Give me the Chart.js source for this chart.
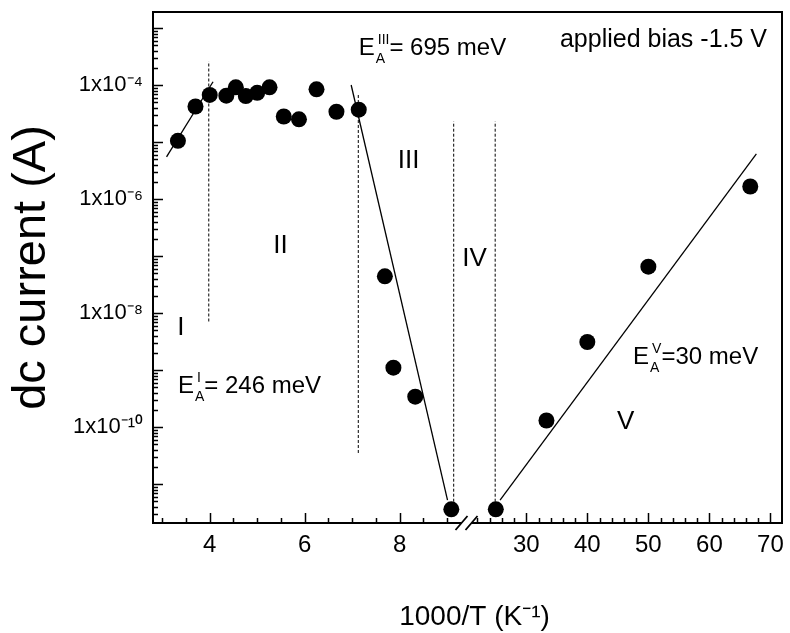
<!DOCTYPE html>
<html>
<head>
<meta charset="utf-8">
<script src="https://cdn.jsdelivr.net/npm/chart.js@4.4.1/dist/chart.umd.min.js"></script>
<style>
  html, body { margin: 0; padding: 0; background: #fff; }
  canvas { display: block; }
</style>
</head>
<body>
<canvas id="arrh" width="790" height="633"></canvas>
<script>
// measured points left of the axis break: 1000/T (K^-1) and dc current (A)
const invTempLow = [3.33, 3.70, 4.00, 4.35, 4.55, 4.76, 5.00, 5.26, 5.56, 5.88, 6.25, 6.67, 7.14, 7.69, 7.87, 8.33, 9.09];
const currentLow = [1.05e-5, 4.2e-5, 6.7e-5, 6.5e-5, 9.1e-5, 6.4e-5, 7.3e-5, 9.1e-5, 2.8e-5, 2.5e-5, 8.4e-5, 3.4e-5, 3.7e-5, 4.4e-8, 1.1e-9, 3.4e-10, 3.6e-12];
// measured points right of the break
const invTempHigh = [25.0, 33.3, 40.0, 50.0, 66.7];
const currentHigh = [3.6e-12, 1.3e-10, 3.1e-9, 6.5e-8, 1.66e-6];

// activation energy fits (end points)
const fitIx = [3.09, 4.07], fitIy = [5.5e-6, 1.14e-4];
const fitIIIx = [6.98, 9.01], fitIIIy = [1.0e-4, 5.2e-12];
const fitVx = [25.7, 67.7], fitVy = [5.2e-12, 6.2e-6];

// dotted region borders
const borderLowX = [3.98, 7.13, 9.14];
const borderLowY = [[7.1e-9, 2.6e-4], [3.5e-11, 6.9e-5], [4e-12, 2.3e-5]];
const borderHighX = [24.9];
const borderHighY = [[4e-12, 2.3e-5]];

// ticks
const xTicksLow = [4, 6, 8];
const xTicksHigh = [30, 40, 50, 60, 70];
const yTickValues = [1e-10, 1e-8, 1e-6, 1e-4];
const yTickLabels = ['1x10\u207B\u00B9\u2070', '1x10\u207B\u2078', '1x10\u207B\u2076', '1x10\u207B\u2074'];

const ink = '#000';
const font = '"Liberation Sans", Arial, Helvetica, sans-serif';

function pts(xs, ys) {
  return xs.map((x, i) => ({ x: x, y: ys[i] }));
}

const datasets = [
  { xAxisID: 'xL', data: pts(invTempLow, currentLow), pointRadius: 8, backgroundColor: ink, borderColor: ink, borderWidth: 0, showLine: false },
  { xAxisID: 'xR', data: pts(invTempHigh, currentHigh), pointRadius: 8, backgroundColor: ink, borderColor: ink, borderWidth: 0, showLine: false },
  { xAxisID: 'xL', data: pts(fitIx, fitIy), showLine: true, pointRadius: 0, borderColor: ink, borderWidth: 1.3 },
  { xAxisID: 'xL', data: pts(fitIIIx, fitIIIy), showLine: true, pointRadius: 0, borderColor: ink, borderWidth: 1.3 },
  { xAxisID: 'xR', data: pts(fitVx, fitVy), showLine: true, pointRadius: 0, borderColor: ink, borderWidth: 1.3 }
];
borderLowX.forEach((x, i) => {
  datasets.push({ xAxisID: 'xL', data: pts([x, x], borderLowY[i]), showLine: true, pointRadius: 0, borderColor: ink, borderWidth: 1, borderDash: [3, 2] });
});
borderHighX.forEach((x, i) => {
  datasets.push({ xAxisID: 'xR', data: pts([x, x], borderHighY[i]), showLine: true, pointRadius: 0, borderColor: ink, borderWidth: 1, borderDash: [3, 2] });
});

// texts inside the plot, anchored in data coordinates
const regionNotes = [
  { text: 'I', axis: 'xL', x: 3.39, y: 5.5e-9 },
  { text: 'II', axis: 'xL', x: 5.49, y: 1.5e-7 },
  { text: 'III', axis: 'xL', x: 8.19, y: 4.7e-6 },
  { text: 'IV', axis: 'xR', x: 21.5, y: 9.1e-8 },
  { text: 'V', axis: 'xR', x: 46.3, y: 1.23e-10 }
];
const energyNotes = [
  { sup: 'I', tail: '= 246 meV', axis: 'xL', x: 3.33, y: 4e-10 },
  { sup: 'III', tail: '= 695 meV', axis: 'xL', x: 7.14, y: 3.4e-4 },
  { sup: 'V', tail: '=30 meV', axis: 'xR', x: 47.5, y: 1.3e-9 }
];

const frame = {
  id: 'frame',
  afterDraw(chart) {
    const ctx = chart.ctx;
    const a = chart.chartArea;
    const y = chart.scales.y, xl = chart.scales.xL, xr = chart.scales.xR;
    ctx.save();
    ctx.strokeStyle = ink;
    ctx.fillStyle = ink;

    // inward tick marks
    ctx.lineWidth = 1.5;
    ctx.beginPath();
    for (let d = -12; d <= -3; d++) {
      for (let m = 1; m <= 9; m++) {
        const v = m * Math.pow(10, d);
        if (v < y.min || v > y.max) continue;
        const py = Math.round(y.getPixelForValue(v)) + 0.5;
        const len = m === 1 ? 10 : 5;
        ctx.moveTo(a.left, py);
        ctx.lineTo(a.left + len, py);
      }
    }
    for (let v = 3; v <= 9.01; v += 0.5) {
      const px = Math.round(xl.getPixelForValue(v)) + 0.5;
      const len = xTicksLow.includes(v) ? 10 : 5;
      ctx.moveTo(px, a.bottom);
      ctx.lineTo(px, a.bottom - len);
    }
    for (let v = 22; v <= 70; v += 2) {
      const px = Math.round(xr.getPixelForValue(v)) + 0.5;
      const len = xTicksHigh.includes(v) ? 10 : 5;
      ctx.moveTo(px, a.bottom);
      ctx.lineTo(px, a.bottom - len);
    }
    ctx.stroke();

    // frame
    ctx.lineWidth = 2;
    ctx.strokeRect(a.left, a.top, a.right - a.left, a.bottom - a.top);

    // axis break
    const bx = xl.right;
    ctx.fillStyle = '#fff';
    ctx.fillRect(bx - 5, a.bottom - 2, 10, 4);
    ctx.lineWidth = 1.8;
    ctx.beginPath();
    [-5, 5].forEach(o => {
      ctx.moveTo(bx + o - 6, a.bottom + 7);
      ctx.lineTo(bx + o + 6, a.bottom - 7);
    });
    ctx.stroke();

    // region numbers
    ctx.fillStyle = ink;
    ctx.font = '26px ' + font;
    ctx.textAlign = 'center';
    ctx.textBaseline = 'middle';
    regionNotes.forEach(n => {
      ctx.fillText(n.text, chart.scales[n.axis].getPixelForValue(n.x), y.getPixelForValue(n.y));
    });

    // activation energies
    ctx.textAlign = 'left';
    ctx.textBaseline = 'alphabetic';
    energyNotes.forEach(n => {
      const px = chart.scales[n.axis].getPixelForValue(n.x);
      const py = y.getPixelForValue(n.y);
      ctx.font = '24px ' + font;
      ctx.fillText('E', px, py);
      const sx = px + ctx.measureText('E').width + 1;
      ctx.font = '14px ' + font;
      ctx.fillText('A', sx, py + 8);
      ctx.fillText(n.sup, sx + 2, py - 11);
      const w = Math.max(ctx.measureText('A').width, ctx.measureText(n.sup).width + 2);
      ctx.font = '24px ' + font;
      ctx.fillText(n.tail, sx + w, py);
    });

    // bias note
    ctx.font = '25px ' + font;
    ctx.textAlign = 'right';
    ctx.fillText('applied bias -1.5 V', a.right - 15, a.top + 35);

    // x axis title
    ctx.font = '28px ' + font;
    ctx.textAlign = 'center';
    ctx.fillText('1000/T (K\u207B\u00B9)', (a.left + a.right) / 2 + 7, 625);
    ctx.restore();
  }
};

const tickFont = { family: font, size: 24 };

function noPad(s) {
  s.paddingTop = 0;
  s.paddingBottom = 0;
  s.paddingLeft = 0;
  s.paddingRight = 0;
}

new Chart(document.getElementById('arrh'), {
  type: 'scatter',
  data: { datasets: datasets },
  options: {
    responsive: false,
    animation: false,
    devicePixelRatio: 1,
    layout: { padding: { top: 12, right: 5, left: 0, bottom: 0 } },
    plugins: { legend: { display: false }, tooltip: { enabled: false } },
    scales: {
      xL: {
        type: 'linear', position: 'bottom', stack: 'x', stackWeight: 315,
        min: 2.805, max: 9.41,
        grid: { display: false, drawTicks: false },
        border: { display: false },
        ticks: { color: ink, font: tickFont, padding: 8, autoSkip: false, maxRotation: 0 },
        afterBuildTicks: s => { s.ticks = xTicksLow.map(v => ({ value: v })); },
        afterFit: s => { s.height = 110; noPad(s); }
      },
      xR: {
        type: 'linear', position: 'bottom', stack: 'x', stackWeight: 317,
        min: 20.2, max: 71.9,
        grid: { display: false, drawTicks: false },
        border: { display: false },
        ticks: { color: ink, font: tickFont, padding: 8, autoSkip: false, maxRotation: 0 },
        afterBuildTicks: s => { s.ticks = xTicksHigh.map(v => ({ value: v })); },
        afterFit: s => { s.height = 110; noPad(s); }
      },
      y: {
        type: 'logarithmic', position: 'left',
        min: 2.07e-12, max: 1.91e-3,
        grid: { display: false, drawTicks: false },
        border: { display: false },
        ticks: {
          color: ink, font: { family: font, size: 22 }, padding: 10, autoSkip: false,
          callback: v => yTickLabels[yTickValues.indexOf(v)]
        },
        afterBuildTicks: s => { s.ticks = yTickValues.map(v => ({ value: v })); },
        afterFit: s => { s.width = 153; noPad(s); },
        title: { display: true, text: 'dc current (A)', color: ink, font: { family: font, size: 47 }, padding: { top: 4, bottom: 0 } }
      }
    }
  },
  plugins: [frame]
});
</script>
</body>
</html>
